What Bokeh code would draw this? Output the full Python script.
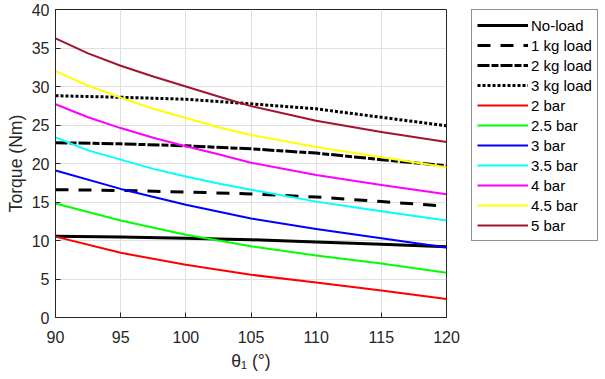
from bokeh.plotting import figure
from bokeh.models import Legend, LegendItem, FixedTicker
from bokeh.embed import file_html
from bokeh.resources import INLINE

# angle samples (5-degree readings, plus 2.5-degree readings where they were taken)
theta = [90, 95, 100, 105, 110, 115, 120]
theta_fine = [90, 92.5, 95, 97.5, 100, 102.5, 105, 110, 115, 120]

no_load = [10.55, 10.45, 10.3, 10.1, 9.8, 9.5, 9.2]
load_1kg = [16.6, 16.5, 16.3, 16.05, 15.65, 15.05, 14.45]
load_2kg = [22.7, 22.55, 22.3, 21.9, 21.35, 20.5, 19.7]
load_3kg = [28.8, 28.6, 28.35, 27.75, 27.1, 26.0, 24.9]
bar_2 = [10.5, 8.4, 6.85, 5.55, 4.55, 3.5, 2.4]
bar_2_5 = [14.8, 12.6, 10.75, 9.25, 8.05, 7.0, 5.8]
bar_3 = [19.1, 16.7, 14.65, 12.85, 11.5, 10.3, 9.1]
bar_3_5 = [23.4, 21.7, 20.5, 19.3, 18.3, 17.4, 16.6, 15.05, 13.8, 12.6]
bar_4 = [27.7, 26.0, 24.6, 23.35, 22.25, 21.2, 20.1, 18.5, 17.2, 16.0]
bar_4_5 = [32.0, 30.1, 28.55, 27.1, 25.9, 24.7, 23.7, 22.15, 20.8, 19.5]
bar_5 = [36.25, 34.3, 32.7, 31.3, 30.0, 28.7, 27.45, 25.55, 24.1, 22.8]

x_ticks = [90, 95, 100, 105, 110, 115, 120]
y_ticks = [0, 5, 10, 15, 20, 25, 30, 35, 40]

series = [
    ("No-load", theta, no_load, "black", 3, "solid"),
    ("1 kg load", theta, load_1kg, "black", 3, "13 10"),
    ("2 kg load", theta, load_2kg, "black", 3, "12 2 7 2"),
    ("3 kg load", theta, load_3kg, "black", 3, "3 2"),
    ("2 bar", theta, bar_2, "#FF0000", 2, "solid"),
    ("2.5 bar", theta, bar_2_5, "#00FF00", 2, "solid"),
    ("3 bar", theta, bar_3, "#0000FF", 2, "solid"),
    ("3.5 bar", theta_fine, bar_3_5, "#00FFFF", 2, "solid"),
    ("4 bar", theta_fine, bar_4, "#FF00FF", 2, "solid"),
    ("4.5 bar", theta_fine, bar_4_5, "#FFFF00", 2, "solid"),
    ("5 bar", theta_fine, bar_5, "#A2142F", 2, "solid"),
]

FONT = "Liberation Sans"
AX = "#262626"

p = figure(frame_width=391, frame_height=308, output_backend="svg", toolbar_location=None,
           x_range=(90, 120), y_range=(0, 40),
           min_border_left=55, min_border_right=150, min_border_top=9, min_border_bottom=50,
           background_fill_color="white", border_fill_color="white")
p.outline_line_color = AX
p.outline_line_width = 1

items = []
for name, xs, ys, col, lw, dash in series:
    r = p.line(xs, ys, line_color=col, line_width=lw, line_dash=dash, line_join="round")
    items.append(LegendItem(label=name, renderers=[r]))

for ax, ticks in ((p.xaxis[0], x_ticks), (p.yaxis[0], y_ticks)):
    ax.ticker = FixedTicker(ticks=ticks)
    ax.major_tick_in = 5
    ax.major_tick_out = 0
    ax.minor_tick_line_color = None
    ax.axis_line_color = AX
    ax.major_tick_line_color = AX
    ax.major_label_text_font = FONT
    ax.major_label_text_font_size = "16px"
    ax.major_label_text_color = AX
    ax.axis_label_text_font = FONT
    ax.axis_label_text_font_size = "17.6px"
    ax.axis_label_text_font_style = "normal"
    ax.axis_label_text_color = AX

p.xaxis.major_label_standoff = 13
p.yaxis.major_label_standoff = 6
p.yaxis.axis_label = "Torque (Nm)"
p.yaxis.axis_label_standoff = 3
p.xaxis.axis_label = "θ₁ (°)"
p.xaxis.axis_label_standoff = 5

p.xgrid.ticker = FixedTicker(ticks=x_ticks)
p.ygrid.ticker = FixedTicker(ticks=y_ticks)
p.xgrid.grid_line_color = "#dfdfdf"
p.ygrid.grid_line_color = "#dfdfdf"

legend = Legend(items=items, location=(25, 76), margin=0, padding=5, spacing=0,
                glyph_width=51, glyph_height=20, label_height=20, label_standoff=3,
                label_text_font=FONT, label_text_font_size="15px", label_text_color="black",
                border_line_color=AX, border_line_width=1, background_fill_color="white",
                background_fill_alpha=1.0)
p.add_layout(legend, "right")

open("out.html", "w").write(file_html(p, INLINE))
